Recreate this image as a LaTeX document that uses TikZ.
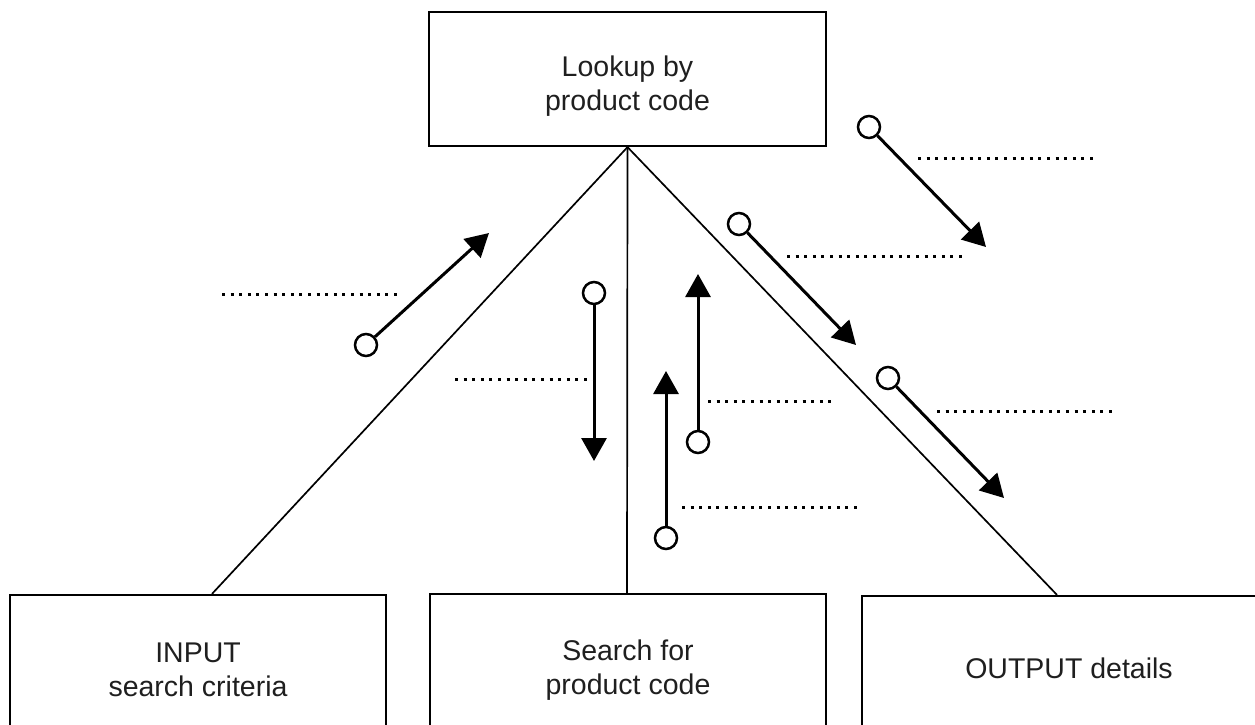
\documentclass[tikz,border=0pt]{standalone}
\usepackage{fontspec}
\setmainfont{Liberation Sans}
\usetikzlibrary{arrows.meta}
\begin{document}
\begin{tikzpicture}[x=1pt,y=-1pt,
  box/.style={draw, line width=2.2pt, inner sep=0pt},
  lbl/.style={font=\fontsize{28.5}{34}\selectfont, align=center, inner sep=0pt, text=black!88},
  link/.style={line width=1.7pt},
  ring/.style={circle, draw, line width=2.5pt, fill=white, minimum size=22pt, inner sep=0pt},
  arr/.style={line width=3pt, -{Triangle[length=23pt,width=25pt]}},
  blank/.style={line width=3pt, dash pattern=on 3pt off 5.6pt}]
\useasboundingbox (0,0) rectangle (1255,725);
\clip (0,0) rectangle (1255,725);
% boxes
\node[box, minimum width=397pt, minimum height=134pt] (top) at (627.5,79) {};
\node[lbl] (toptxt) at (627.5,86) {Lookup by\\product code};
\node[box, minimum width=376pt, minimum height=146pt] (b1) at (198,668) {};
\node[box, minimum width=396pt, minimum height=148pt] (b2) at (628,668) {};
\node[box, minimum width=414pt, minimum height=144pt] (b3) at (1069,668) {};
\node[lbl] (b1txt) at (198,670) {INPUT\\search criteria};
\node[lbl] (b2txt) at (628,670) {Search for\\product code};
\node[lbl] (b3txt) at (1069,668) {OUTPUT details};
% links
\draw[link] (top.south) -- ([xshift=14pt]b1.north);
\draw[link] (top.south) -- ([xshift=-1pt]b2.north);
\draw[link] (top.south) -- ([xshift=-12pt]b3.north);
% arrows
\node[ring] (c1) at (366,345) {};  \coordinate (t1) at (489,233);
\node[ring] (c2) at (594,293) {};  \coordinate (t2) at (594,461);
\node[ring] (c3) at (698,442) {};  \coordinate (t3) at (698,274);
\node[ring] (c4) at (666,538) {};  \coordinate (t4) at (666,371);
\node[ring] (c5) at (739,224) {};  \coordinate (t5) at (856,345);
\node[ring] (c6) at (869,127) {};  \coordinate (t6) at (986,247);
\node[ring] (c7) at (888,378) {};  \coordinate (t7) at (1004,498);
\foreach \i in {1,...,7} { \draw[arr] (c\i) -- (t\i); }
% answer blanks
\draw[blank] (222,294) -- (400,294);
\draw[blank] (455,379) -- (590,379);
\draw[blank] (708,401) -- (835,401);
\draw[blank] (682,507) -- (858,507);
\draw[blank] (918,158) -- (1094,158);
\draw[blank] (787,256) -- (964,256);
\draw[blank] (937,411) -- (1113,411);
\end{tikzpicture}
\end{document}
